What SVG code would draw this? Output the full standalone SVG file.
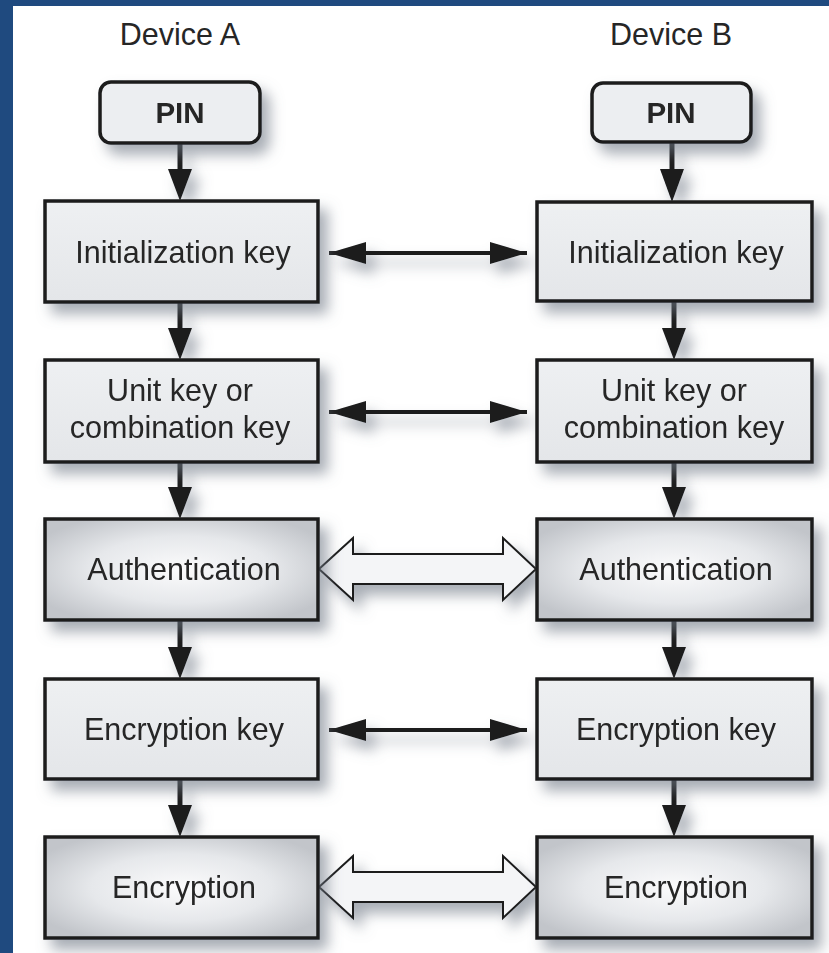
<svg xmlns="http://www.w3.org/2000/svg" width="829" height="953" viewBox="0 0 829 953">
  <defs>
    <style>
      .frame { fill: #1f4a7f; }
      .box { stroke: #1b1b1b; stroke-width: 3.5; }
      .flat { fill: url(#flatFill); }
      .glow { fill: url(#glowFill); }
      .pin { fill: #eceef1; stroke: #1b1b1b; stroke-width: 3.5; }
      .lbl { font-family: "Liberation Sans", Arial, sans-serif; font-size: 30.5px; fill: #262626; text-anchor: middle; }
      .bold { font-weight: bold; font-size: 29.5px; }
      .head { fill: #1b1b1b; }
      .shaft { stroke: #1b1b1b; stroke-width: 5; fill: none; }
      .thin { stroke: #1b1b1b; stroke-width: 4; fill: none; }
      .hollow { fill: #f4f5f7; stroke: #1b1b1b; stroke-width: 2; stroke-linejoin: miter; }
    </style>
    <linearGradient id="flatFill" x1="0" y1="0" x2="0" y2="1">
      <stop offset="0" stop-color="#eef0f2"/>
      <stop offset="1" stop-color="#e4e6e9"/>
    </linearGradient>
    <radialGradient id="glowFill" cx="0.5" cy="0.5" r="0.6">
      <stop offset="0" stop-color="#fbfbfc"/>
      <stop offset="0.55" stop-color="#e6e8eb"/>
      <stop offset="1" stop-color="#c2c5ca"/>
    </radialGradient>
    <filter id="shadow" x="-20%" y="-30%" width="150%" height="180%">
      <feGaussianBlur in="SourceAlpha" stdDeviation="7"/>
      <feOffset dx="8" dy="10" result="b"/>
      <feFlood flood-color="#6d7683" flood-opacity="0.6"/>
      <feComposite in2="b" operator="in"/>
      <feMerge>
        <feMergeNode/>
        <feMergeNode in="SourceGraphic"/>
      </feMerge>
    </filter>
    <marker id="tipThin" viewBox="0 0 37 22" refX="37" refY="11" markerWidth="37" markerHeight="22" markerUnits="userSpaceOnUse" orient="auto-start-reverse">
      <path d="M0,0 L37,11 L0,22 Z" fill="#1b1b1b"/>
    </marker>
  </defs>

  <!-- page background and frame -->
  <rect x="0" y="0" width="829" height="953" fill="#ffffff"/>
  <rect class="frame" x="0" y="0" width="829" height="6"/>
  <rect class="frame" x="0" y="0" width="13" height="953"/>

  <!-- column headings -->
  <text class="lbl" x="180" y="45">Device A</text>
  <text class="lbl" x="671" y="45">Device B</text>

  <!-- connectors -->
  <g id="connectors" filter="url(#shadow)">
    <!-- Device A vertical flow -->
    <line class="shaft" x1="180" y1="143" x2="180" y2="172"/>
    <polygon class="head" points="168,169 192,169 180,201"/>
    <line class="shaft" x1="180" y1="302" x2="180" y2="331"/>
    <polygon class="head" points="168,328 192,328 180,360"/>
    <line class="shaft" x1="180" y1="462" x2="180" y2="490"/>
    <polygon class="head" points="168,487 192,487 180,519"/>
    <line class="shaft" x1="180" y1="620" x2="180" y2="650"/>
    <polygon class="head" points="168,647 192,647 180,679"/>
    <line class="shaft" x1="180" y1="779" x2="180" y2="808"/>
    <polygon class="head" points="168,805 192,805 180,837"/>

    <!-- Device B vertical flow -->
    <line class="shaft" x1="672" y1="142" x2="672" y2="172"/>
    <polygon class="head" points="660,169 684,169 672,202"/>
    <line class="shaft" x1="674" y1="301" x2="674" y2="331"/>
    <polygon class="head" points="662,328 686,328 674,360"/>
    <line class="shaft" x1="674" y1="462" x2="674" y2="490"/>
    <polygon class="head" points="662,487 686,487 674,519"/>
    <line class="shaft" x1="674" y1="620" x2="674" y2="650"/>
    <polygon class="head" points="662,647 686,647 674,679"/>
    <line class="shaft" x1="674" y1="779" x2="674" y2="808"/>
    <polygon class="head" points="662,805 686,805 674,837"/>

    <!-- key exchanges between devices -->
    <line class="thin" x1="329" y1="253" x2="527" y2="253" marker-start="url(#tipThin)" marker-end="url(#tipThin)"/>
    <line class="thin" x1="329" y1="412" x2="527" y2="412" marker-start="url(#tipThin)" marker-end="url(#tipThin)"/>
    <line class="thin" x1="329" y1="730" x2="527" y2="730" marker-start="url(#tipThin)" marker-end="url(#tipThin)"/>

    <!-- wide two-way links -->
    <polygon class="hollow" points="319,569 353,538 353,554 503,554 503,538 536,569 503,600 503,584 353,584 353,600"/>
    <polygon class="hollow" points="319,887 353,856 353,872 503,872 503,856 536,887 503,918 503,902 353,902 353,918"/>
  </g>

  <!-- Device A nodes -->
  <g id="pinA" filter="url(#shadow)">
    <rect class="pin" x="100" y="82" width="160" height="61" rx="11"/>
    <text class="lbl bold" x="180" y="123">PIN</text>
  </g>
  <g id="initKeyA" filter="url(#shadow)">
    <rect class="box flat" x="45" y="201" width="273" height="101"/>
    <text class="lbl" x="183" y="263">Initialization key</text>
  </g>
  <g id="unitKeyA" filter="url(#shadow)">
    <rect class="box flat" x="45" y="360" width="273" height="102"/>
    <text class="lbl" x="180" y="401">Unit key or</text>
    <text class="lbl" x="180" y="438">combination key</text>
  </g>
  <g id="authA" filter="url(#shadow)">
    <rect class="box glow" x="45" y="519" width="273" height="101"/>
    <text class="lbl" x="184" y="580">Authentication</text>
  </g>
  <g id="encKeyA" filter="url(#shadow)">
    <rect class="box flat" x="45" y="679" width="273" height="100"/>
    <text class="lbl" x="184" y="740">Encryption key</text>
  </g>
  <g id="encA" filter="url(#shadow)">
    <rect class="box glow" x="45" y="837" width="273" height="101"/>
    <text class="lbl" x="184" y="898">Encryption</text>
  </g>

  <!-- Device B nodes -->
  <g id="pinB" filter="url(#shadow)">
    <rect class="pin" x="592" y="83" width="159" height="59" rx="11"/>
    <text class="lbl bold" x="671" y="123">PIN</text>
  </g>
  <g id="initKeyB" filter="url(#shadow)">
    <rect class="box flat" x="537" y="202" width="275" height="99"/>
    <text class="lbl" x="676" y="263">Initialization key</text>
  </g>
  <g id="unitKeyB" filter="url(#shadow)">
    <rect class="box flat" x="537" y="360" width="275" height="102"/>
    <text class="lbl" x="674" y="401">Unit key or</text>
    <text class="lbl" x="674" y="438">combination key</text>
  </g>
  <g id="authB" filter="url(#shadow)">
    <rect class="box glow" x="537" y="519" width="275" height="101"/>
    <text class="lbl" x="676" y="580">Authentication</text>
  </g>
  <g id="encKeyB" filter="url(#shadow)">
    <rect class="box flat" x="537" y="679" width="275" height="100"/>
    <text class="lbl" x="676" y="740">Encryption key</text>
  </g>
  <g id="encB" filter="url(#shadow)">
    <rect class="box glow" x="537" y="837" width="275" height="101"/>
    <text class="lbl" x="676" y="898">Encryption</text>
  </g>
</svg>
